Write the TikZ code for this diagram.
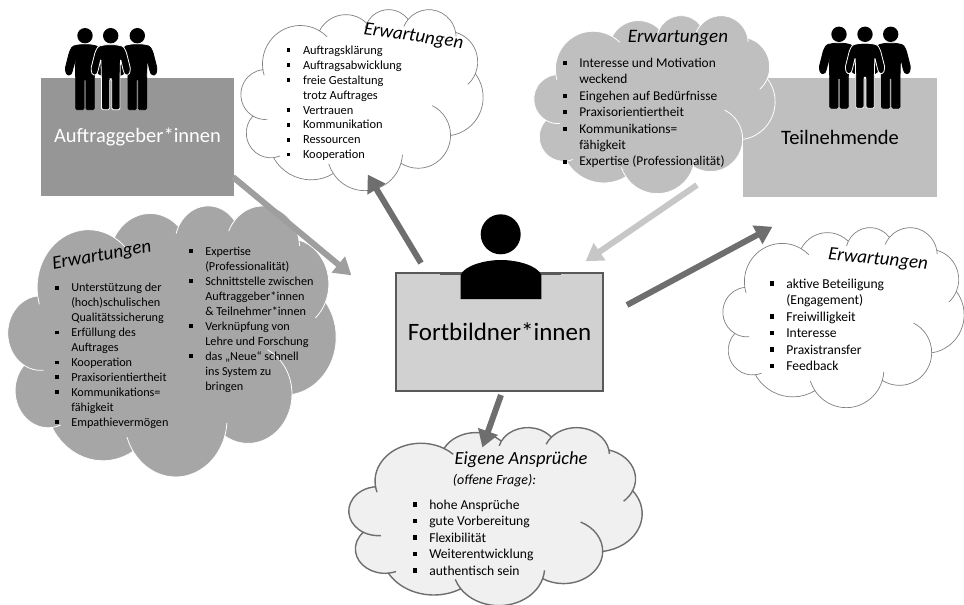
\documentclass[tikz,border=0pt]{standalone}
\usepackage{fontspec}
\setmainfont{Carlito}
\usetikzlibrary{arrows.meta,calc}
\definecolor{dunkel}{HTML}{6E6E6E}
\definecolor{rahmen}{HTML}{595959}
\definecolor{mittel}{HTML}{A6A6A6}
\definecolor{hell}{HTML}{BFBFBF}
\tikzset{
    >=Triangle,
    kasten/.style={rectangle,inner sep=0,outer sep=0,align=center},
    wolkenbox/.style={rectangle,inner sep=0,outer sep=0},
    bg/.style n args={4}{x radius=#1,y radius=#2,start angle=#3,end angle=#4},
    wolkeweiss/.style={fill=white,draw=gray,line width=.7pt},
    wolkehell/.style={fill=hell,draw=white,line width=.8pt},
    wolkemittel/.style={fill=mittel,draw=white,line width=.8pt},
    wolkegrau/.style={fill=black!6,draw=dunkel,line width=1.4pt},
    liste/.style 2 args={anchor=north west,inner sep=0,outer sep=0,text width=170pt,align=flush left,font=\fontsize{#1}{#2}\selectfont},
    titel/.style={inner sep=0,font=\fontsize{#1}{#1}\selectfont\itshape},
    pfeil/.style={line width=6pt,shorten >=-.5pt},
    spitze/.style={-{Triangle[length=17pt,width=20pt]}}
}
\newlength{\einzug}
\setlength{\einzug}{16.3pt}
\newcommand{\pkt}{\par\noindent\hangindent=\einzug\hangafter=1\hbox to\einzug{\rule[.18em]{.3em}{.3em}\hfil}}
% name, left, top, width, height, style
\newcommand{\wolke}[6]{
    \node[wolkenbox,minimum width=#4,minimum height=#5] (#1) at ({#2+#4/2},{#3+#5/2}) {};
    \begin{scope}[shift={(#2,#3)},xscale=#4/43.2,yscale=#5/43.2]
        \draw[#6] (3.9,14.37)
            arc[bg={6.753}{9.19}{-187.75}{-59.6}]
            arc[bg={5.333}{7.267}{-152}{-45.45}]
            arc[bg={4.365}{5.945}{-153.5}{-37.3}]
            arc[bg={4.857}{6.595}{-139.7}{-10.2}]
            arc[bg={5.333}{7.267}{-74.8}{23.2}]
            arc[bg={6.775}{9.22}{-37.5}{81.9}]
            arc[bg={5.785}{7.867}{0.46}{122}]
            arc[bg={6.752}{9.215}{16.85}{146.2}]
            arc[bg={7.72}{10.543}{59}{150.2}]
            arc[bg={4.36}{5.918}{83.3}{223.1}]
            arc[bg={4.345}{5.945}{120.4}{264.1}] -- cycle;
        \foreach \cx/\cy/\rx/\ry/\wa/\wb in {
            10.592/13.13/6.753/9.19/-197/-187.75, 10.592/13.13/6.753/9.19/-59.6/-45,
            26.365/6.09/4.365/5.945/-165/-153.5, 33.541/6.753/4.857/6.595/-157/-139.7,
            33.541/6.753/4.857/6.595/-10.2/-2, 36.923/12.599/5.333/7.267/23.2/48,
            31.619/30.14/5.785/7.867/-64/0.46, 22.091/34.139/6.752/9.215/4/16.85,
            22.091/34.139/6.752/9.215/146.2/162, 5.294/29.591/4.36/5.918/68/83.3,
            4.31/20.422/4.345/5.945/85/120.4}
            \draw[#6,fill=none] ({\cx+\rx*cos(\wa)},{\cy+\ry*sin(\wa)}) arc[bg={\rx}{\ry}{\wa}{\wb}];
    \end{scope}
}
% head centre x, y, outline
\newcommand{\figur}[3]{
    \begin{scope}[shift={(#1,#2)}]
        \fill[black] (0,0) circle[radius=7.7];
        \draw[#3,fill=black,rounded corners=1.5pt,line width=.8pt] (-5,9) -- (5,9) -- (12.5,10.5) -- (15.5,16) -- (19.8,33) -- (18.5,39) -- (14.5,39.5) -- (12.8,36)
            -- (9.8,23) -- (9.3,43) -- (9.3,74) -- (1,74) -- (1,43) -- (-1,43) -- (-1,74) -- (-9.3,74)
            -- (-9.3,43) -- (-9.8,23) -- (-12.8,36) -- (-14.5,39.5) -- (-18.5,39) -- (-19.8,33) -- (-15.5,16) -- (-12.5,10.5) -- cycle;
    \end{scope}
}

\begin{document}
\begin{tikzpicture}[x=1pt,y=-1pt]
    \useasboundingbox (0,0) rectangle (964,605);
    % Kaesten
    \node[kasten,fill=black!41,text=white,minimum width=193,minimum height=118,font=\fontsize{20.5}{24}\selectfont] (auftrag) at (137.5,137) {\raisebox{-2pt}{Auftraggeber*innen}};
    \node[kasten,fill=hell,minimum width=194,minimum height=119,font=\fontsize{20.5}{24}\selectfont] (teil) at (840,137.5) {\raisebox{-1pt}{Teilnehmende}};
    \node[kasten,fill=black!18,draw=rahmen,line width=2pt,minimum width=207,minimum height=118,font=\fontsize{25}{30}\selectfont] (fort) at (499.5,332) {Fortbildner*innen};
    % Wolken
    \wolke{woben}{241}{9}{242}{181}{wolkeweiss}
    \wolke{wteil}{534}{15}{241}{178}{wolkehell}
    \wolke{wauftrag}{8}{205}{328}{271}{wolkemittel}
    \wolke{weigen}{349}{427}{293}{178}{wolkegrau}
    \wolke{wrechts}{723}{227}{241}{180}{wolkeweiss}
    % Figuren
    \figur{85}{35.7}{black}
    \figur{137.3}{35.7}{black}
    \figur{110.7}{35.7}{white}
    \figur{839}{34.3}{black}
    \figur{890.7}{34.3}{black}
    \figur{865}{34.3}{white}
    \fill[black] (500.7,234.3) circle[radius=20];
    \draw[rahmen,line width=3pt] (440,273) -- (561,273);
    \fill[black] (460.7,299) -- (460.7,275) .. controls (464,266) and (484,260) .. (501,260) .. controls (518,260) and (538,266) .. (541.3,275) -- (541.3,299) -- cycle;
    % Pfeile
    \draw[pfeil,spitze,draw=black!38] ([shift={(-1,-19)}]auftrag.south east) -- ([shift={(-45,2)}]fort.north west);
    \draw[pfeil,spitze,draw=dunkel] ([shift={(25,-10)}]fort.north west) -- ([shift={(6,-15)}]woben.south);
    \draw[pfeil,spitze,draw=black!22] ([shift={(-46,-12)}]teil.south west) -- ([shift={(-17,-12)}]fort.north east);
    \draw[pfeil,spitze,draw=dunkel] ([shift={(24,-27)}]fort.east) -- ([shift={(49,0)}]wrechts.north west);
    \draw[pfeil,spitze,draw=dunkel] ([shift={(1.5,4)}]fort.south) -- ([shift={(-13,20)}]weigen.north);
    % Texte
    \node[titel=19,rotate=-8] (t1) at (413.5,37) {Erwartungen};
    \node[liste={12.4}{14.9}] (l1) at (286.7,39.5) {\pkt Auftragsklärung \pkt Auftragsabwicklung \pkt freie Gestaltung\newline trotz Auftrages \pkt Vertrauen \pkt Kommunikation \pkt Ressourcen \pkt Kooperation\par};
    \node[titel=19] (t2) at (678,38) {Erwartungen};
    \node[liste={13.4}{16.5}] (l2) at (563,50.5) {\pkt Interesse und Motivation\newline weckend \pkt Eingehen auf Bedürfnisse \pkt Praxisorientiertheit \pkt Kommunikations=\newline fähigkeit \pkt Expertise (Professionalität)\par};
    \node[titel=19,rotate=10] (t3) at (102,256) {Erwartungen};
    \node[liste={12.2}{14.9}] (l3) at (55,277) {\pkt Unterstützung der\newline (hoch)schulischen\newline Qualitätssicherung \pkt Erfüllung des\newline Auftrages \pkt Kooperation \pkt Praxisorientiertheit \pkt Kommunikations=\newline fähigkeit \pkt Empathievermögen\par};
    \node[liste={12.2}{15}] (l4) at (189,240) {\pkt Expertise\newline (Professionalität) \pkt Schnittstelle zwischen\newline Auftraggeber*innen\newline \& Teilnehmer*innen \pkt Verknüpfung von\newline Lehre und Forschung \pkt das „Neue“ schnell\newline ins System zu\newline bringen\par};
    \node[titel=18.5] (t4) at (521,460) {Eigene Ansprüche};
    \node[titel=14,anchor=west] (t5) at (452.7,481) {(offene Frage):};
    \node[liste={13.6}{16.5}] (l5) at (413,492.5) {\pkt hohe Ansprüche \pkt gute Vorbereitung \pkt Flexibilität \pkt Weiterentwicklung \pkt authentisch sein\par};
    \node[titel=19,rotate=-5.5] (t6) at (878,260) {Erwartungen};
    \node[liste={13.6}{16.5}] (l6) at (770,271.5) {\pkt aktive Beteiligung\newline (Engagement) \pkt Freiwilligkeit \pkt Interesse \pkt Praxistransfer \pkt Feedback\par};
\end{tikzpicture}
\end{document}
